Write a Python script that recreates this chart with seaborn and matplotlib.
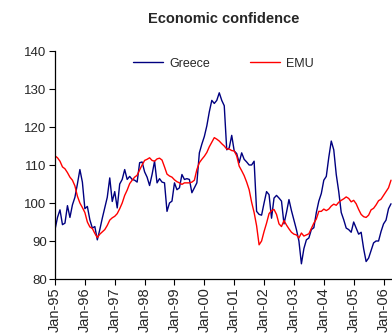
import matplotlib
matplotlib.use("Agg")
import matplotlib.pyplot as plt
import seaborn as sns
import pandas as pd
import numpy as np

# ---- data (monthly, Jan-95 .. Apr-06) ----
greece = [93, 96.2, 98.2, 94.3, 94.7, 99.3, 96.2, 99.5, 101.5, 105, 108.8, 105.5,
          98.5, 99.1, 95.6, 93.4, 93.8, 90.3, 93, 96, 98.7, 101.5, 106.6, 100.4,
          103, 98.7, 105, 106.2, 108.8, 106.2, 107, 106.2, 106, 105.5, 110.6, 110.8,
          108.2, 106.8, 104.6, 107.5, 111, 105.3, 106.4, 105.5, 105.3, 97.8, 100, 100.5,
          105.3, 103.5, 104, 107.5, 106.2, 106.4, 106.2, 102.7, 104, 105.3, 113.2, 115.5,
          117.5, 120.3, 124, 127, 126.2, 127, 129, 127, 125.6, 114, 114.5, 117.8,
          113.7, 113, 110.6, 113.2, 111.5, 110.8, 110, 110, 111, 97.8, 97, 96.8,
          100, 103, 102.2, 96, 101.3, 102, 101.3, 100.5, 94.5, 97.5, 100.9, 98,
          95.5, 93, 90, 84, 88, 90.3, 90.8, 93, 93.5, 97.5, 100.5, 102.5,
          106, 107, 112, 116.3, 114, 107.5, 103, 97.5, 95.6, 93.4, 93, 92.3,
          95, 93.4, 91.8, 92.3, 88, 84.6, 85.5, 87.5, 89.5, 90, 90, 92.5,
          94.5, 95.5, 98.5, 99.8]
emu = [112.4, 111.9, 111, 109.5, 109, 108, 106.8, 106, 104.5, 101.8, 100, 98.8,
       97.5, 95, 93.7, 93.3, 92, 90.9, 91.8, 92.4, 93, 94.1, 95.5, 96.1,
       96.5, 97.2, 98.5, 100, 102, 103.4, 105.1, 106, 106.8, 107.3, 108.7, 110,
       111.2, 111.5, 111.9, 111.2, 111, 111.6, 111.8, 111.3, 109.5, 107.6, 107.1, 106.8,
       106.1, 105.6, 105.3, 104.9, 105.3, 105.3, 105.3, 105.5, 106, 108.8, 110.6, 111.5,
       112.3, 113.3, 114.8, 116, 117.2, 116.8, 116.3, 115.6, 115, 114.2, 114.2, 113.8,
       113.7, 112.4, 109.7, 108.5, 107.2, 105.5, 103.5, 100.2, 97.5, 94, 89, 90,
       92.5, 94.7, 97.2, 98, 98.3, 97, 94.5, 93.8, 95.4, 94.2, 93.2, 92.3,
       91.8, 91.6, 90.8, 92.1, 91.3, 91.6, 91.9, 93.3, 94.7, 95.8, 97.8, 97.8,
       98.4, 98, 98.4, 99.2, 99.7, 99.4, 100.2, 100.7, 101.1, 101.6, 101.2, 100.3,
       100.7, 99.8, 98.3, 97, 96.4, 96.2, 96.8, 98.2, 98.6, 99.5, 100.6, 101,
       102, 103, 104, 106]
tick_labels = ['Jan-95', 'Jan-96', 'Jan-97', 'Jan-98', 'Jan-99', 'Jan-00',
               'Jan-01', 'Jan-02', 'Jan-03', 'Jan-04', 'Jan-05', 'Jan-06']
series_names = ['Greece', 'EMU']
y_ticks = [80, 90, 100, 110, 120, 130, 140]

months = np.arange(len(greece))
df = pd.DataFrame({
    'month': np.concatenate([months, months]),
    'value': greece + emu,
    'series': [series_names[0]] * len(greece) + [series_names[1]] * len(emu),
})

sns.set_style('ticks')
plt.rcParams['font.family'] = ['Liberation Sans', 'DejaVu Sans']

fig = plt.figure(figsize=(3.92, 3.34), dpi=100)
ax = fig.add_axes([55 / 392, 1 - 279 / 334, (392 - 55) / 392, (279 - 51) / 334])

sns.lineplot(data=df, x='month', y='value', hue='series',
             palette={'Greece': '#000080', 'EMU': '#ff0000'},
             linewidth=1.0, ax=ax)

ax.set_xlim(0, len(greece) - 0.6)
ax.set_ylim(80, 140)
ax.set_yticks(y_ticks)
ax.set_yticklabels([str(v) for v in y_ticks], fontsize=9.5)
ax.set_xticks(np.arange(0, 12 * len(tick_labels), 12))
ax.set_xticklabels(tick_labels, rotation=90, fontsize=10.5)
ax.set_xlabel('')
ax.set_ylabel('')
ax.tick_params(axis='both', direction='out', length=4, width=0.8, color='black', pad=2)
for s in ['top', 'right']:
    ax.spines[s].set_visible(False)
for s in ['left', 'bottom']:
    ax.spines[s].set_color('black')
    ax.spines[s].set_linewidth(0.9)

ax.legend(loc='upper center', bbox_to_anchor=(0.5, 1.02), ncol=2, frameon=False,
          fontsize=9, handlelength=2.4, columnspacing=3.2, handletextpad=0.5)

fig.text((55 + 392) / 2 / 392, 1 - 19 / 334, 'Economic confidence',
         ha='center', va='center', fontsize=10.5, fontweight='bold')

fig.savefig('out.png', dpi=100)
